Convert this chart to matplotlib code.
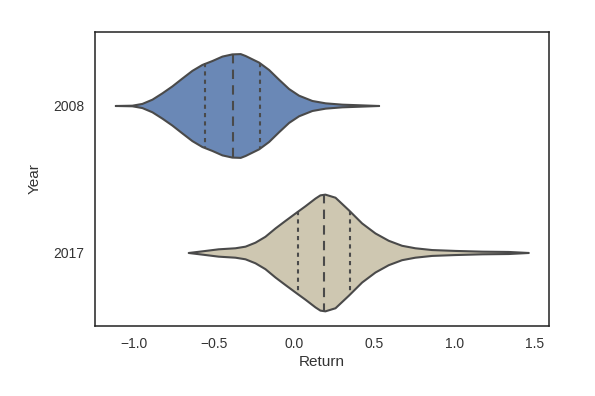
import numpy as np
import matplotlib
matplotlib.use("Agg")
import matplotlib.pyplot as plt

plt.rcParams['font.family'] = ['Liberation Sans', 'DejaVu Sans']

years = ["2008", "2017"]
colors = ["#6a88b6", "#cec7b1"]

# Violin outline: Return values and relative half-width (density)
ret_2008 = [-1.114, -1.010, -0.948, -0.885, -0.823, -0.761, -0.698, -0.636, -0.574, -0.511,
            -0.449, -0.387, -0.335, -0.304, -0.220, -0.158, -0.095, -0.033, 0.029, 0.112,
            0.195, 0.299, 0.403, 0.528]
dens_2008 = [0.0, 0.002, 0.014, 0.043, 0.086, 0.133, 0.187, 0.239, 0.279, 0.306,
             0.336, 0.351, 0.353, 0.340, 0.295, 0.245, 0.178, 0.115, 0.070, 0.034,
             0.018, 0.009, 0.005, 0.0]

ret_2017 = [-0.659, -0.575, -0.472, -0.368, -0.305, -0.243, -0.181, -0.118, -0.056, 0.006,
            0.069, 0.131, 0.162, 0.193, 0.256, 0.339, 0.422, 0.505, 0.588, 0.671,
            0.754, 0.858, 1.004, 1.170, 1.336, 1.461]
dens_2017 = [0.0, 0.011, 0.025, 0.032, 0.043, 0.070, 0.110, 0.167, 0.218, 0.268,
             0.318, 0.370, 0.392, 0.397, 0.376, 0.291, 0.201, 0.133, 0.083, 0.049,
             0.032, 0.020, 0.014, 0.009, 0.007, 0.0]

quartiles_2008 = [-0.555, -0.378, -0.212]
quartiles_2017 = [0.027, 0.189, 0.349]

rets = [ret_2008, ret_2017]
dens = [dens_2008, dens_2017]
quarts = [quartiles_2008, quartiles_2017]

fig = plt.figure(figsize=(5.95, 3.96), dpi=100)
ax = fig.add_axes([0.1597, 0.1768, 0.763, 0.7424])

edge = "#4a4a4a"
for i in range(2):
    x = np.array(rets[i])
    d = np.array(dens[i])
    ax.fill_between(x, i - d, i + d, facecolor=colors[i], edgecolor=edge, linewidth=1.5,
                    joinstyle="round", zorder=2)
    for k, q in enumerate(quarts[i]):
        w = np.interp(q, x, d)
        if k == 1:
            ax.plot([q, q], [i - w, i + w], color=edge, lw=1.5, ls=(0, (4.5, 3)), zorder=3)
        else:
            ax.plot([q, q], [i - w, i + w], color=edge, lw=1.5, ls=(0, (2, 2)), zorder=3)

ax.set_xlim(-1.24, 1.59)
ax.set_ylim(1.5, -0.5)
ax.set_yticks([0, 1])
ax.set_yticklabels(years)
ax.set_xticks([-1.0, -0.5, 0.0, 0.5, 1.0, 1.5])
ax.set_xticklabels(["\u22121.0", "\u22120.5", "0.0", "0.5", "1.0", "1.5"])
ax.tick_params(length=0, labelsize=10, colors="#333333", pad=8)
ax.set_xlabel("Return", fontsize=11, color="#333333", labelpad=3)
ax.set_ylabel("Year", fontsize=11, color="#333333", labelpad=8)
for s in ax.spines.values():
    s.set_color("#222222")
    s.set_linewidth(1.1)

fig.savefig("out.png", dpi=100, facecolor="white")
